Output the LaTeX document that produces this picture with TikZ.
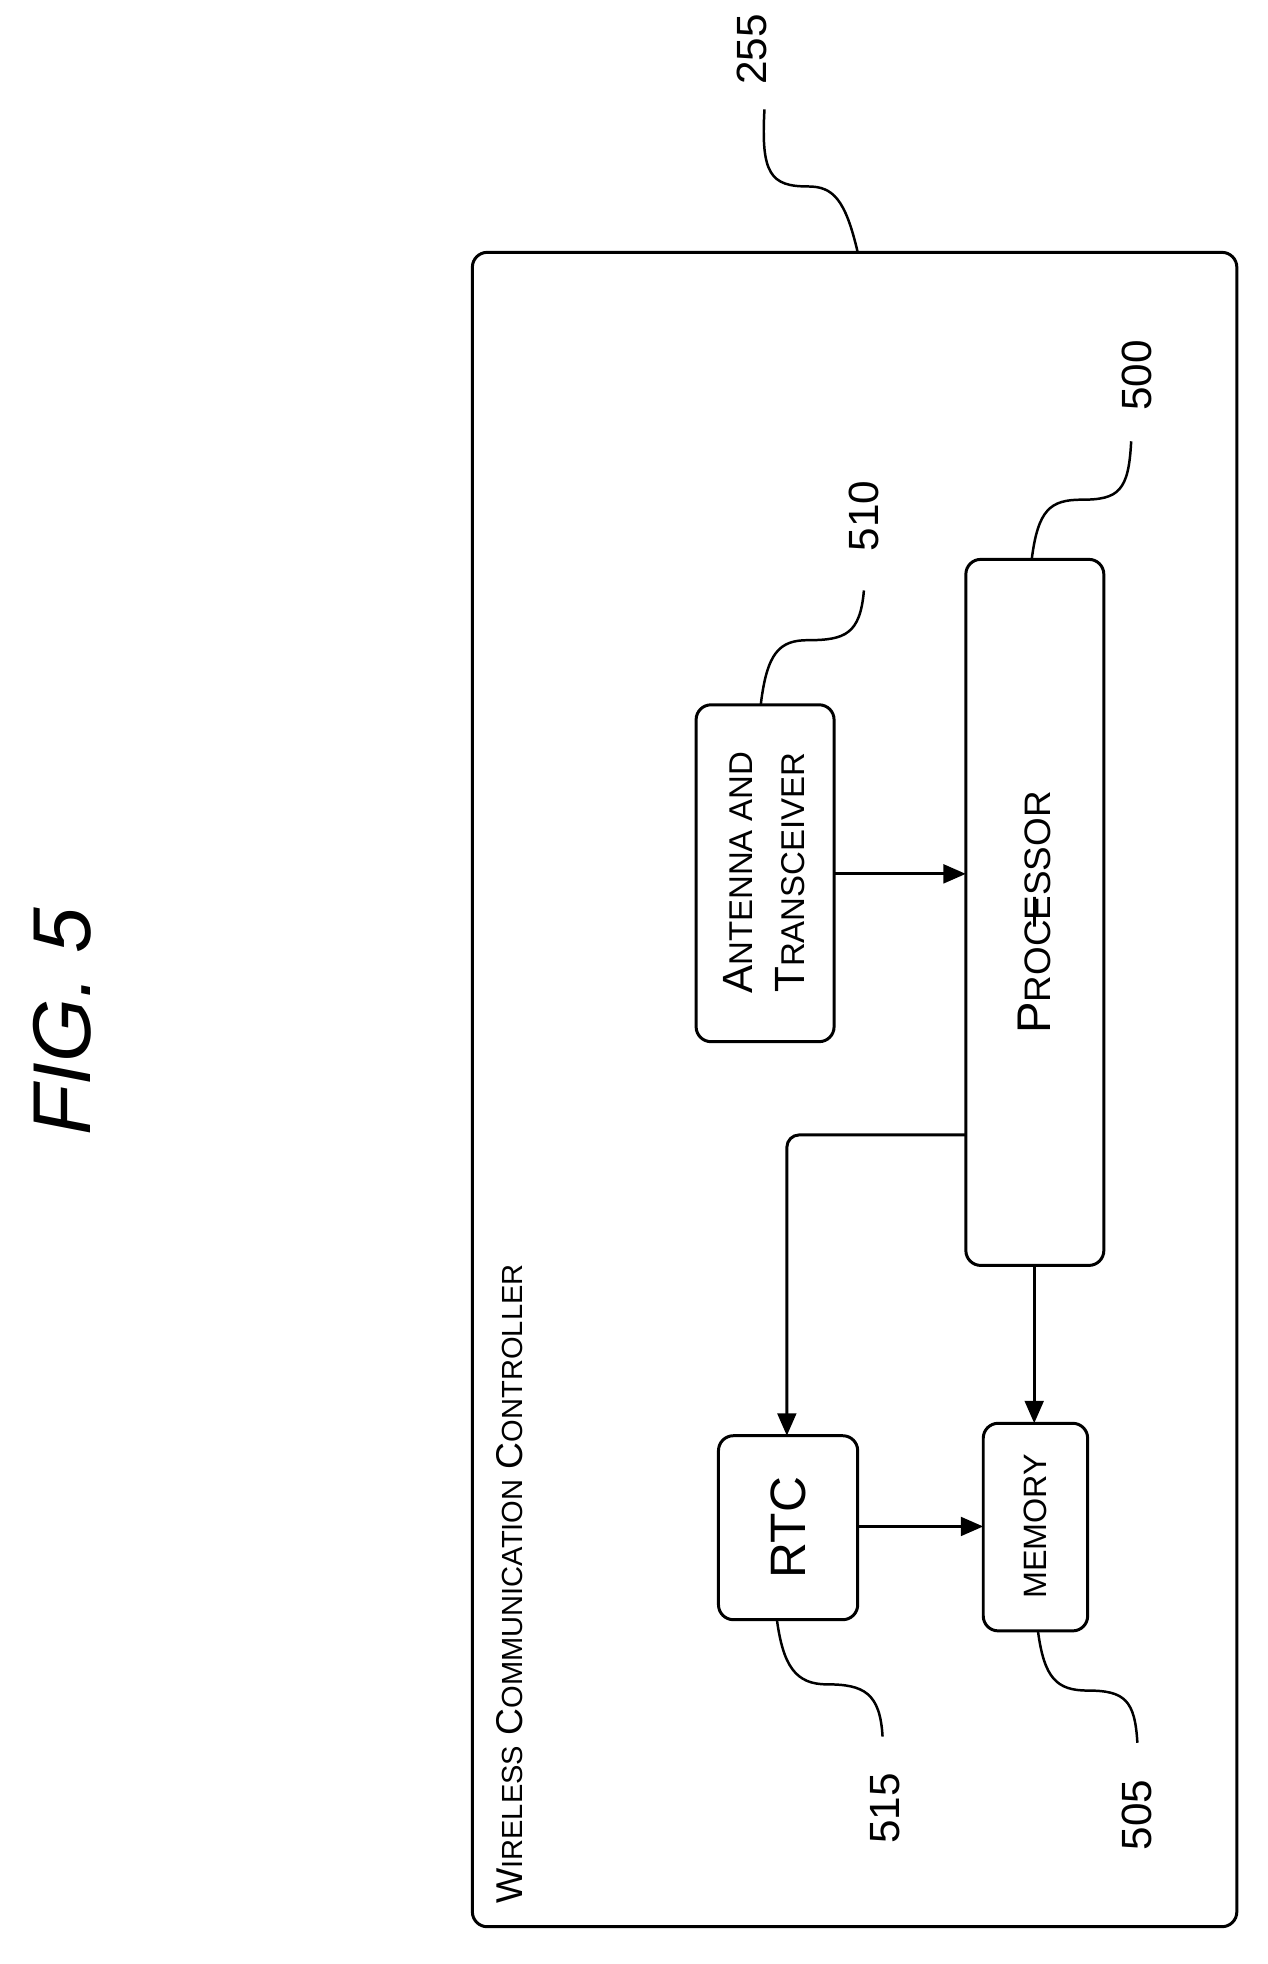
\documentclass[tikz,border=0pt]{standalone}
\usepackage{fontspec}
\setmainfont{Liberation Sans}
\usetikzlibrary{arrows.meta}
\newcommand{\fsc}[3][0.78]{#2{\fontsize{#1\dimexpr\csname f@size\endcsname pt\relax}{1}\selectfont #3}}
\makeatletter
\newcommand{\SC}[2]{#1{\fontsize{0.78\dimexpr\f@size pt\relax}{1}\selectfont #2}}
\makeatother
\begin{document}
\begin{tikzpicture}[x=1pt,y=-1pt,
  box/.style={draw,line width=2.4pt,rounded corners=12pt},
  ln/.style={line width=2.4pt},
  arr/.style={ln,-{Triangle[length=18pt,width=15pt]}},
  lbl/.style={rotate=90,font=\fontsize{34}{34}\selectfont,inner sep=0},
  sq/.style={line width=2pt}]
\useasboundingbox (0,0) rectangle (1020,1580);
\draw[box] (380,203) rectangle (995,1550);
\node[box,minimum width=0,inner sep=0] (proc) at (832,734) {};
\path (777,450) coordinate (p1) (888,1018) coordinate (p2);
\draw[box] (p1) rectangle (p2);
\node[rotate=90,font=\fontsize{38}{38}\selectfont] (pt) at (832,734) {\makeatletter\SC{P}{ROCESSOR}};
\draw[box] (560,567) rectangle (671,838);
\node[rotate=90,align=center,font=\fontsize{34}{42}\selectfont] (at) at (615,702) {\SC{A}{NTENNA AND}\\\SC{T}{RANSCEIVER}};
\draw[box] (578,1155) rectangle (690,1303);
\node[rotate=90,font=\fontsize{40}{40}\selectfont] (rt) at (634,1229) {RTC};
\draw[box] (791,1145) rectangle (875,1312);
\node[rotate=90,font=\fontsize{26}{26}\selectfont] (mt) at (833,1228) {MEMORY};
\coordinate (ar) at (671,703); \coordinate (pl) at (777,703);
\draw[arr] (ar) -- (pl);
\coordinate (ps) at (777,913); \coordinate (rtop) at (633,1155);
\draw[arr,rounded corners=10pt] (ps) -- (633,913) -- (rtop);
\coordinate (pb) at (832,1018); \coordinate (mtop) at (832,1145);
\draw[arr] (pb) -- (mtop);
\coordinate (rr) at (690,1228); \coordinate (ml) at (791,1228);
\draw[arr] (rr) -- (ml);
\node[rotate=90,anchor=west,font=\fontsize{30}{30}\selectfont] (title) at (410,1535) {\SC{W}{IRELESS} \SC{C}{OMMUNICATION} \SC{C}{ONTROLLER}};
\node[rotate=90,font=\fontsize{66}{66}\selectfont\itshape] (fig) at (50,822) {FIG. 5};
\node[lbl] (n255) at (605,40) {255};
\node[lbl] (n500) at (915,302) {500};
\node[lbl] (n510) at (695,415) {510};
\node[lbl] (n515) at (712,1455) {515};
\node[lbl] (n505) at (915,1460) {505};
\draw[sq] (690,203) .. controls (680,160) and (670,150) .. (650,150) .. controls (620,150) and (612,140) .. (615,88);
\draw[sq] (830,450) .. controls (835,410) and (845,402) .. (870,402) .. controls (900,402) and (908,395) .. (910,355);
\draw[sq] (612,567) .. controls (617,525) and (627,515) .. (650,515) .. controls (680,515) and (692,510) .. (695,475);
\draw[sq] (625,1303) .. controls (630,1340) and (640,1355) .. (665,1355) .. controls (695,1355) and (708,1362) .. (710,1397);
\draw[sq] (835,1312) .. controls (840,1350) and (850,1360) .. (875,1360) .. controls (905,1360) and (913,1368) .. (915,1402);
\end{tikzpicture}
\end{document}
